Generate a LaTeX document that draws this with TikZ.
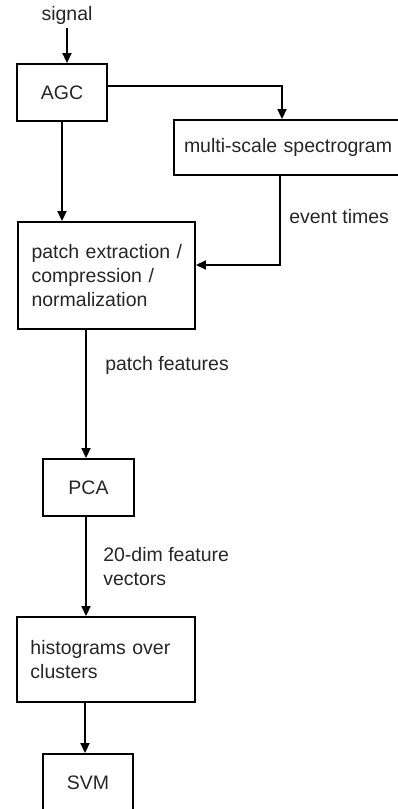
\documentclass[tikz,border=0pt]{standalone}
\usepackage{fontspec}
\setmainfont{Liberation Sans}
\usetikzlibrary{arrows.meta}

\begin{document}
\begin{tikzpicture}[x=1pt, y=-1pt,
    font=\fontsize{19.5}{24}\selectfont, text=black!85,
    block/.style={draw, line width=1.9pt, inner sep=0pt},
    textblock/.style={block, align=left, inner xsep=13.5pt, inner ysep=0pt},
    flow/.style={line width=1.9pt, -{Triangle[length=10pt, width=9pt]}}]
    \clip (0,0) rectangle (398,809);
    \useasboundingbox (0,0) rectangle (398,809);

    % Draw the processing blocks
    \node (sig) at (67,15) {signal};
    \node[block, minimum width=90pt, minimum height=57pt] (agc) at (62,92.5) {AGC};
    \node[block, minimum width=232pt, minimum height=55pt, text width=212pt, inner xsep=10pt, align=left] (spec) at (290,147.5) {multi-scale spectrogram};
    \node[textblock, text width=150pt, minimum height=107pt] (patch) at (106.5,275.5)
        {\mbox{patch extraction /}\\\mbox{compression /}\\normalization};
    \node[block, minimum width=91pt, minimum height=57pt] (pca) at (88.5,487.5) {PCA};
    \node[textblock, text width=151pt, minimum height=85pt] (hist) at (106,659.5)
        {\mbox{histograms over}\\clusters};
    \node[block, minimum width=90pt, minimum height=57pt] (svm) at (88,782.5) {SVM};

    % Draw the connections between the blocks
    \draw[flow] (sig.south) -- (sig.south |- agc.north);
    \draw[flow] ([yshift=6.5pt]agc.east) -| ([xshift=-8pt]spec.north);
    \draw[flow] (agc.south) -- (agc.south |- patch.north);
    \draw[flow] ([xshift=-10pt]spec.south) |- ([yshift=10.5pt]patch.east)
        node[right, pos=0.23, xshift=5pt] (evt) {event times};
    \draw[flow] ([xshift=-2.5pt]pca.north |- patch.south) -- ([xshift=-2.5pt]pca.north)
        node[right, pos=0.28, xshift=15pt] (pfeat) {patch features};
    \draw[flow] ([xshift=-2.5pt]pca.south) -- ([xshift=-2.5pt]pca.south |- hist.north)
        node[right, pos=0.5, xshift=13pt, align=left] (vec) {20-dim feature\\vectors};
    \draw[flow] ([xshift=-3pt]svm.north |- hist.south) -- ([xshift=-3pt]svm.north);
\end{tikzpicture}
\end{document}
